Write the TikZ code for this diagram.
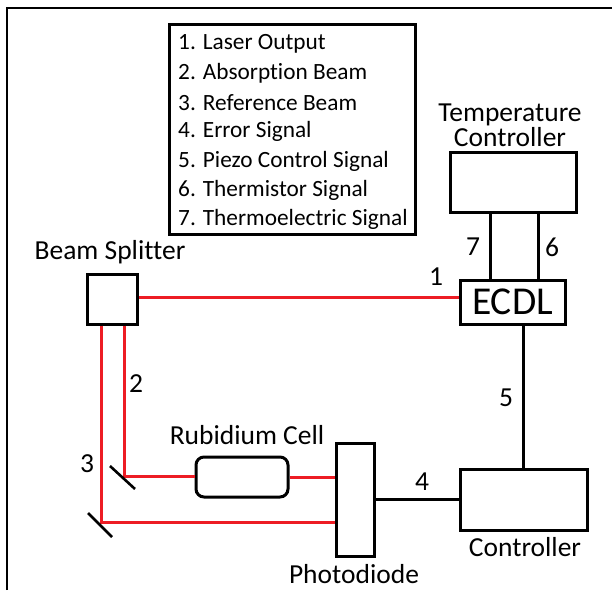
\documentclass[tikz,border=0pt]{standalone}
\usepackage{fontspec}
\setmainfont{Carlito}[RawFeature={-liga}]
\definecolor{laser}{RGB}{237,28,36}
\begin{document}
\begin{tikzpicture}[x=1pt,y=-1pt,
  blk/.style={draw=black, line width=3pt, fill=white, inner sep=0pt},
  wire/.style={draw=black, line width=3pt},
  beam/.style={draw=laser, line width=3pt},
  mirror/.style={draw=black, line width=2.6pt},
  lbl/.style={font=\fontsize{27.5}{25}\selectfont, inner sep=0pt},
  leg/.style={font=\fontsize{23.3}{23}\selectfont, inner sep=0pt, anchor=west},
]
\useasboundingbox (0,0) rectangle (612,590);
\fill[white] (0,0) rectangle (612,590);
% frame
\draw[line width=2pt] (7,590) -- (7,8) -- (612,8);

% legend
\node[blk, minimum width=246pt, minimum height=210pt] (legend) at (292,129) {};
\foreach \t [count=\i] in {Laser Output, Absorption Beam, Reference Beam, Error Signal, Piezo Control Signal, Thermistor Signal, Thermoelectric Signal}
  \node[leg, name=l\i] at (178,{44+29.3*(\i-1)}) {\i. \t};

% boxes
\node[lbl, align=center] (tclbl) at (510,125) {Temperature\\Controller};
\node[blk, minimum width=126pt, minimum height=60pt] (tc) at (513,182) {};
\node[blk, minimum width=105pt, minimum height=44pt, font=\fontsize{39.5}{39}\selectfont] (ecdl) at (512.5,302) {ECDL};
\node[lbl] (bslbl) at (110,252) {Beam Splitter};
\node[blk, minimum width=50pt, minimum height=50pt] (bs) at (112,299) {};
\node[blk, rounded corners=8pt, minimum width=92pt, minimum height=40pt] (rb) at (242,477) {};
\node[lbl] (rblbl) at (247,435) {Rubidium Cell};
\node[blk, minimum width=38pt, minimum height=113pt] (pd) at (355,499.5) {};
\node[lbl] (pdlbl) at (354,574) {Photodiode};
\node[blk, minimum width=127pt, minimum height=61pt] (ctrl) at (523.5,499.5) {};
\node[lbl] (ctrllbl) at (525,547) {Controller};

% helper coordinates
\coordinate (x7) at (490,0);
\coordinate (x6) at (538,0);
\coordinate (x5) at (523,0);
\coordinate (b1) at (0,297);
\coordinate (m1) at (124,476);
\coordinate (m2) at (101,522);

% wires
\draw[wire] (tc.south -| x7) -- (ecdl.north -| x7);
\draw[wire] (tc.south -| x6) -- (ecdl.north -| x6);
\draw[wire] (ecdl.south -| x5) -- (ctrl.north -| x5);
\draw[wire] (pd.east) -- (ctrl.west);

% beams
\draw[beam] (bs.east |- b1) -- (ecdl.west |- b1);
\draw[beam] (bs.south -| m1) -- (m1) -- (rb.west |- m1);
\draw[beam] (rb.east) -- (pd.west |- rb.east);
\draw[beam] (bs.south -| m2) -- (m2) -- (pd.west |- m2);

% mirrors
\draw[mirror] ([shift={(-14,-10)}]m1) -- ([shift={(11,13)}]m1);
\draw[mirror] ([shift={(-13,-9)}]m2) -- ([shift={(11,15)}]m2);

% number labels
\node[lbl] (n1) at (436,277) {1};
\node[lbl] (n2) at (136,384) {2};
\node[lbl] (n3) at (87,464) {3};
\node[lbl] (n4) at (422,482) {4};
\node[lbl] (n5) at (506,398) {5};
\node[lbl] (n6) at (552,247) {6};
\node[lbl] (n7) at (473,247) {7};
\end{tikzpicture}
\end{document}
